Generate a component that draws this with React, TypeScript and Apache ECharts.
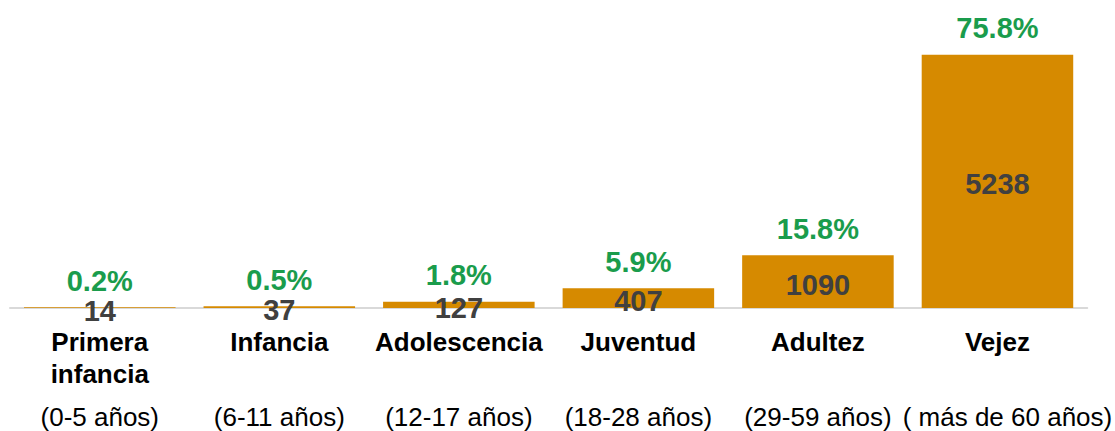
import React, { useEffect, useRef } from "react";
import * as echarts from "echarts";

const categories = ["Primera\ninfancia", "Infancia", "Adolescencia", "Juventud", "Adultez", "Vejez"];
const ageRanges = ["(0-5 años)", "(6-11 años)", "(12-17 años)", "(18-28 años)", "(29-59 años)", "( más de 60 años)"];
const counts = [14, 37, 127, 407, 1090, 5238];
const percents = ["0.2%", "0.5%", "1.8%", "5.9%", "15.8%", "75.8%"];

const FONT = "'Liberation Sans', Arial, sans-serif";

export default function App() {
  const ref = useRef<HTMLDivElement>(null);
  useEffect(() => {
    if (!ref.current) return;
    const chart = echarts.init(ref.current, undefined, { renderer: "svg" });
    chart.setOption({
      animation: false,
      grid: { left: 10, right: 25, top: 30, bottom: 118, containLabel: false },
      xAxis: [
        {
          type: "category",
          data: categories,
          axisLine: { show: true, lineStyle: { color: "#d9d9d9", width: 2 } },
          axisTick: { show: false },
          axisLabel: {
            interval: 0,
            margin: 18,
            fontFamily: FONT,
            fontSize: 26,
            fontWeight: "bold",
            color: "#000000",
            lineHeight: 32,
          },
        },
        {
          type: "category",
          data: ageRanges,
          position: "bottom",
          axisLine: { show: false },
          axisTick: { show: false },
          axisLabel: {
            interval: 0,
            margin: 95,
            fontFamily: FONT,
            fontSize: 26,
            color: "#000000",
            lineHeight: 28,
            formatter: (v: string, i: number) => (i === ageRanges.length - 1 ? "{s|" + v + "}" : v),
            rich: {
              s: { fontFamily: FONT, fontSize: 26, color: "#000000", padding: [0, 0, 0, 20] },
            },
          },
        },
      ],
      yAxis: { type: "value", show: false, min: 0, max: 5750, splitLine: { show: false } },
      series: [
        {
          type: "bar",
          data: counts,
          xAxisIndex: 0,
          barCategoryGap: "15.6%",
          itemStyle: { color: "#D68A00" },
          label: {
            show: true,
            position: "inside",
            offset: [0, 3],
            fontFamily: FONT,
            fontSize: 29,
            fontWeight: "bold",
            color: "#404040",
          },
        },
        {
          type: "bar",
          data: counts,
          xAxisIndex: 0,
          barGap: "-100%",
          barCategoryGap: "15.6%",
          itemStyle: { color: "transparent" },
          silent: true,
          label: {
            show: true,
            position: "top",
            distance: 12,
            fontFamily: FONT,
            fontSize: 29,
            fontWeight: "bold",
            color: "#1A9C4C",
            formatter: (p: any) => percents[p.dataIndex],
          },
        },
      ],
    });
    return () => chart.dispose();
  }, []);
  return (
    <div
      ref={ref}
      style={{ position: "absolute", left: 0, top: 0, width: 1115, height: 431, background: "#ffffff" }}
    />
  );
}
